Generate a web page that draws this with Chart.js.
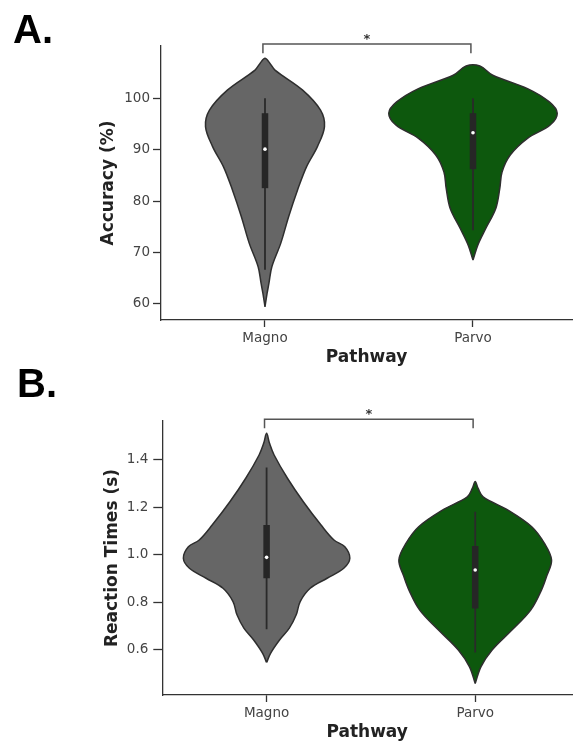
<!DOCTYPE html>
<html>
<head>
<meta charset="utf-8">
<script src="https://cdn.jsdelivr.net/npm/chart.js@4.4.1/dist/chart.umd.min.js"></script>
<style>
  html, body { margin: 0; padding: 0; background: #fff; }
  body { width: 576px; height: 742px; position: relative; overflow: hidden; }
  .panel { position: absolute; left: 0; width: 576px; height: 371px; }
  .letter { position: absolute; z-index: 2; font: bold 40px "Liberation Sans", Arial, sans-serif; line-height: 40px; color: #000; }
</style>
</head>
<body>
<div class="panel" style="top:0"><canvas id="accChart" width="576" height="371"></canvas></div>
<div class="panel" style="top:371px"><canvas id="rtChart" width="576" height="371"></canvas></div>
<div class="letter" style="left:13px; top:9px;">A.</div>
<div class="letter" style="left:17px; top:363px;">B.</div>
<script>
const pathways = ['Magno', 'Parvo'];
const violinColors = ['#666666', '#0d580d'];

// A. accuracy (%) - violin outline: levels and half widths (category units)
const accMagnoY = [59.4, 62.0, 64.0, 67.2, 71.8, 77.0, 82.2, 86.7, 90.6, 94.5, 97.7, 101.6, 105.5, 106.8, 107.8];
const accMagnoW = [0, 0.01, 0.019, 0.033, 0.076, 0.114, 0.157, 0.2, 0.252, 0.286, 0.267, 0.181, 0.048, 0.024, 0];
const accParvoY = [68.5, 71.5, 74.7, 78.6, 82.5, 85.7, 89.0, 92.2, 94.8, 97.1, 99.3, 101.9, 104.5, 106.3];
const accParvoW = [0, 0.024, 0.062, 0.11, 0.129, 0.14, 0.18, 0.262, 0.371, 0.405, 0.367, 0.262, 0.095, 0.033];
// whisker low, q1, median, q3, whisker high
const accMagnoBox = [66.6, 82.5, 90.1, 97.1, 100];
const accParvoBox = [74.3, 86.2, 93.3, 97.1, 100];
const accTicks = [60, 70, 80, 90, 100];
const accBracket = [108.8, 110.56];
const accStar = 110.8;

// B. reaction times (s)
const rtMagnoY = [0.547, 0.586, 0.642, 0.692, 0.748, 0.804, 0.860, 0.902, 0.944, 0.986, 1.035, 1.063, 1.126, 1.224, 1.323, 1.421, 1.470, 1.512];
const rtMagnoW = [0, 0.019, 0.062, 0.109, 0.142, 0.161, 0.209, 0.29, 0.37, 0.399, 0.375, 0.323, 0.261, 0.176, 0.1, 0.036, 0.014, 0];
const rtParvoY = [0.459, 0.530, 0.600, 0.684, 0.768, 0.853, 0.909, 0.979, 1.049, 1.119, 1.189, 1.245, 1.280, 1.309];
const rtParvoW = [0, 0.028, 0.081, 0.176, 0.266, 0.318, 0.342, 0.366, 0.332, 0.271, 0.157, 0.038, 0.014, 0];
const rtMagnoBox = [0.687, 0.902, 0.99, 1.126, 1.368];
const rtParvoBox = [0.589, 0.775, 0.937, 1.038, 1.182];
const rtTicks = [0.6, 0.8, 1.0, 1.2, 1.4];
const rtBracket = [1.533, 1.571];
const rtStar = 1.577;

// right side bottom->top, then left side top->bottom
function outline(c, ys, ws) {
  const pts = ys.map((y, i) => ({x: c + ws[i], y: y}));
  for (let i = ys.length - 1; i >= 0; i--) {
    if (i === ys.length - 1 && ws[i] === 0) continue;
    pts.push({x: c - ws[i], y: ys[i]});
  }
  return pts;
}

function buildDatasets(violins, boxes, bracket) {
  const ds = [];
  violins.forEach((v, i) => {
    ds.push({
      data: outline(i, v[0], v[1]),
      showLine: true, fill: 'shape', tension: 0.35,
      backgroundColor: violinColors[i], borderColor: '#2e2e2e', borderWidth: 1.5,
      pointRadius: 0, order: 3
    });
  });
  boxes.forEach((b, i) => {
    ds.push({data: [{x: i, y: b[0]}, {x: i, y: b[4]}], showLine: true,
      borderColor: '#2a2a2a', borderWidth: 1.8, pointRadius: 0, order: 2});
    ds.push({data: [{x: i, y: b[1]}, {x: i, y: b[3]}], showLine: true,
      borderColor: '#262626', borderWidth: 6.5, pointRadius: 0, order: 1});
    ds.push({data: [{x: i, y: b[2]}], pointRadius: 1.8,
      pointBackgroundColor: '#fff', pointBorderWidth: 0, borderWidth: 0, order: 0});
  });
  ds.push({
    data: [{x: -0.01, y: bracket[0]}, {x: -0.01, y: bracket[1]}, {x: 0.99, y: bracket[1]}, {x: 0.99, y: bracket[0]}],
    showLine: true, tension: 0, borderColor: '#555', borderWidth: 1.5, pointRadius: 0, clip: false, order: 0
  });
  return ds;
}

const starPlugin = {
  id: 'sigStar',
  afterDatasetsDraw(chart, args, opts) {
    const ctx = chart.ctx;
    const x = chart.scales.x.getPixelForValue(0.49);
    const y = chart.scales.y.getPixelForValue(opts.y);
    ctx.save();
    ctx.font = 'bold 13px "DejaVu Sans"';
    ctx.fillStyle = '#333';
    ctx.textAlign = 'center';
    ctx.textBaseline = 'alphabetic';
    ctx.fillText('*', x, y);
    ctx.restore();
  }
};

const tickFont = {family: 'DejaVu Sans', size: 13.5};
const titleFont = {family: 'DejaVu Sans', size: 17, weight: 'bold', lineHeight: 1};

function makeChart(id, p) {
  return new Chart(document.getElementById(id), {
    type: 'scatter',
    data: {datasets: buildDatasets(p.violins, p.boxes, p.bracket)},
    plugins: [starPlugin],
    options: {
      responsive: false,
      animation: false,
      devicePixelRatio: 1,
      layout: {padding: {left: p.padLeft, top: p.padTop, right: 0, bottom: 0}},
      plugins: {legend: {display: false}, tooltip: {enabled: false}, sigStar: {y: p.star}},
      scales: {
        x: {
          type: 'linear', min: -0.5, max: p.xMax, bounds: 'data',
          afterBuildTicks: s => { s.ticks = pathways.map((n, i) => ({value: i})); },
          afterFit: s => { s.height = p.xHeight; s.paddingLeft = 0; s.paddingRight = 0; },
          ticks: {callback: v => pathways[v], color: '#444', font: tickFont, padding: p.xPad, maxRotation: 0, autoSkip: false},
          grid: {drawOnChartArea: false, drawTicks: true, tickLength: 7, tickColor: '#333', tickWidth: 1.3},
          border: {display: true, color: '#333', width: 1.3},
          title: {display: true, text: 'Pathway', color: '#222', font: titleFont, padding: {top: 0, bottom: p.xTitlePad}}
        },
        y: {
          min: p.yMin, max: p.yMax, bounds: 'data',
          afterBuildTicks: s => { s.ticks = p.ticks.map(v => ({value: v})); },
          afterFit: s => { s.width = p.yWidth; },
          ticks: {callback: p.fmt, color: '#444', font: tickFont, padding: p.yPad},
          grid: {drawOnChartArea: false, drawTicks: true, tickLength: p.yTick, tickColor: '#333', tickWidth: 1.3},
          border: {display: true, color: '#333', width: 1.3},
          title: {display: true, text: p.title, color: '#222', font: titleFont, padding: {top: p.yTitlePad, bottom: 0}}
        }
      }
    }
  });
}

makeChart('accChart', {
  violins: [[accMagnoY, accMagnoW], [accParvoY, accParvoW]],
  boxes: [accMagnoBox, accParvoBox],
  bracket: accBracket, star: accStar,
  ticks: accTicks, fmt: v => String(v),
  yMin: 56.83, yMax: 110.19, xMax: 1.476,
  padLeft: 95, padTop: 46, yWidth: 66, yTick: 8, yPad: 3, yTitlePad: 5.5,
  xHeight: 51, xPad: 3, xTitlePad: 4.5,
  title: 'Accuracy (%)'
});

makeChart('rtChart', {
  violins: [[rtMagnoY, rtMagnoW], [rtParvoY, rtParvoW]],
  boxes: [rtMagnoBox, rtParvoBox],
  bracket: rtBracket, star: rtStar,
  ticks: rtTicks, fmt: v => v.toFixed(1),
  yMin: 0.4105, yMax: 1.564, xMax: 1.464,
  padLeft: 100, padTop: 50, yWidth: 62.3, yTick: 9, yPad: 5, yTitlePad: 4.5,
  xHeight: 47, xPad: 3.5, xTitlePad: 0.5,
  title: 'Reaction Times (s)'
});
</script>
</body>
</html>
